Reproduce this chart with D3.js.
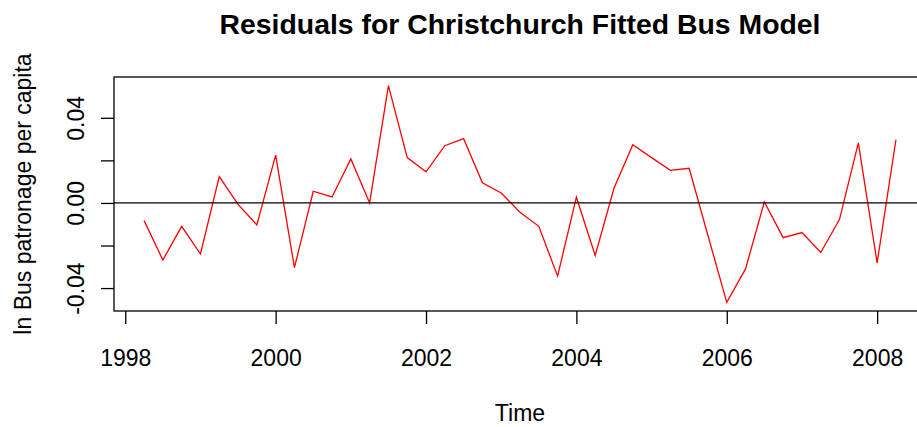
<!DOCTYPE html>
<html>
<head>
<meta charset="utf-8">
<script src="https://cdn.jsdelivr.net/npm/d3@7"></script>
<style>
  html, body { margin: 0; padding: 0; background: #fff; }
  svg { display: block; }
  text { font-family: "Liberation Sans", Arial, Helvetica, sans-serif; fill: #000; }
</style>
</head>
<body>
<svg id="chart" width="917" height="427"></svg>
<script>
// Quarterly residuals of the fitted bus patronage model (Christchurch)
const times = [
  1998.25, 1998.50, 1998.75, 1999.00, 1999.25, 1999.50, 1999.75, 2000.00,
  2000.25, 2000.50, 2000.75, 2001.00, 2001.25, 2001.50, 2001.75, 2002.00,
  2002.25, 2002.50, 2002.75, 2003.00, 2003.25, 2003.50, 2003.75, 2004.00,
  2004.25, 2004.50, 2004.75, 2005.00, 2005.25, 2005.50, 2005.75, 2006.00,
  2006.25, 2006.50, 2006.75, 2007.00, 2007.25, 2007.50, 2007.75, 2008.00,
  2008.25
];
const residuals = [
  -0.0083, -0.0268, -0.0110, -0.0240,  0.0124, -0.0007, -0.0103,  0.0225,
  -0.0304,  0.0055,  0.0028,  0.0207,  0.0000,  0.0551,  0.0213,  0.0146,
   0.0269,  0.0302,  0.0095,  0.0047, -0.0044, -0.0110, -0.0344,  0.0027,
  -0.0247,  0.0069,  0.0274,  0.0213,  0.0153,  0.0163, -0.0153, -0.0467,
  -0.0310,  0.0005, -0.0163, -0.0139, -0.0233, -0.0077,  0.0282, -0.0282,
   0.0297
];
const xTicks = [1998, 2000, 2002, 2004, 2006, 2008];
const yTicks = [-0.04, -0.02, 0.00, 0.02, 0.04];
const yTickLabels = ["-0.04", "", "0.00", "", "0.04"];

const titleText = "Residuals for Christchurch Fitted Bus Model";
const xLabel = "Time";
const yLabel = "ln Bus patronage per capita";

// Plot region (the right edge runs past the canvas)
const plot = { left: 114, top: 77, right: 926, bottom: 311 };

// Axis ranges padded by 4% on each side
function padded(ext) {
  const d = (ext[1] - ext[0]) * 0.04;
  return [ext[0] - d, ext[1] + d];
}

const x = d3.scaleLinear().domain(padded(d3.extent(times))).range([plot.left, plot.right]);
const y = d3.scaleLinear().domain(padded(d3.extent(residuals))).range([plot.bottom, plot.top]);

const svg = d3.select("#chart");
const tickLen = 13;
const fontSize = 23;

// Red residual line
const data = times.map((t, i) => ({ t, v: residuals[i] }));
svg.append("path")
  .datum(data)
  .attr("fill", "none")
  .attr("stroke", "#ff0000")
  .attr("stroke-width", 1.3)
  .attr("stroke-linejoin", "miter")
  .attr("d", d3.line().x(d => x(d.t)).y(d => y(d.v)));

// Zero reference line
svg.append("line")
  .attr("x1", plot.left).attr("x2", plot.right)
  .attr("y1", y(0)).attr("y2", y(0))
  .attr("stroke", "#000").attr("stroke-width", 1.3);

// Box around the plot region
svg.append("rect")
  .attr("x", plot.left).attr("y", plot.top)
  .attr("width", plot.right - plot.left).attr("height", plot.bottom - plot.top)
  .attr("fill", "none").attr("stroke", "#000").attr("stroke-width", 1.3);

// Bottom axis
const gx = svg.append("g")
  .attr("transform", `translate(0,${plot.bottom})`)
  .call(d3.axisBottom(x).tickValues(xTicks).tickFormat(d3.format("d")).tickSizeInner(tickLen).tickSizeOuter(0));
gx.select(".domain").remove();
gx.selectAll(".tick line").attr("stroke", "#000").attr("stroke-width", 1.3);
gx.selectAll(".tick text")
  .attr("y", 55).attr("dy", null)
  .style("font-size", fontSize + "px")
  .style("font-family", '"Liberation Sans", Arial, sans-serif');

// Left axis with rotated labels
const gy = svg.append("g")
  .attr("transform", `translate(${plot.left},0)`)
  .call(d3.axisLeft(y).tickValues(yTicks).tickFormat((d, i) => yTickLabels[i]).tickSizeInner(tickLen).tickSizeOuter(0));
gy.select(".domain").remove();
gy.selectAll(".tick line").attr("stroke", "#000").attr("stroke-width", 1.3);
gy.selectAll(".tick text")
  .attr("x", null).attr("dy", null)
  .attr("text-anchor", "middle")
  .attr("transform", "translate(-30,0) rotate(-90)")
  .style("font-size", fontSize + "px")
  .style("font-family", '"Liberation Sans", Arial, sans-serif');

// Title and axis labels
svg.append("text")
  .attr("x", (plot.left + plot.right) / 2).attr("y", 34)
  .attr("text-anchor", "middle")
  .style("font-size", "28.4px").style("font-weight", "bold")
  .text(titleText);

svg.append("text")
  .attr("x", (plot.left + plot.right) / 2).attr("y", 421)
  .attr("text-anchor", "middle")
  .style("font-size", fontSize + "px")
  .text(xLabel);

svg.append("text")
  .attr("transform", `translate(31,${(plot.top + plot.bottom) / 2}) rotate(-90)`)
  .attr("text-anchor", "middle")
  .style("font-size", fontSize + "px")
  .text(yLabel);
</script>
</body>
</html>
